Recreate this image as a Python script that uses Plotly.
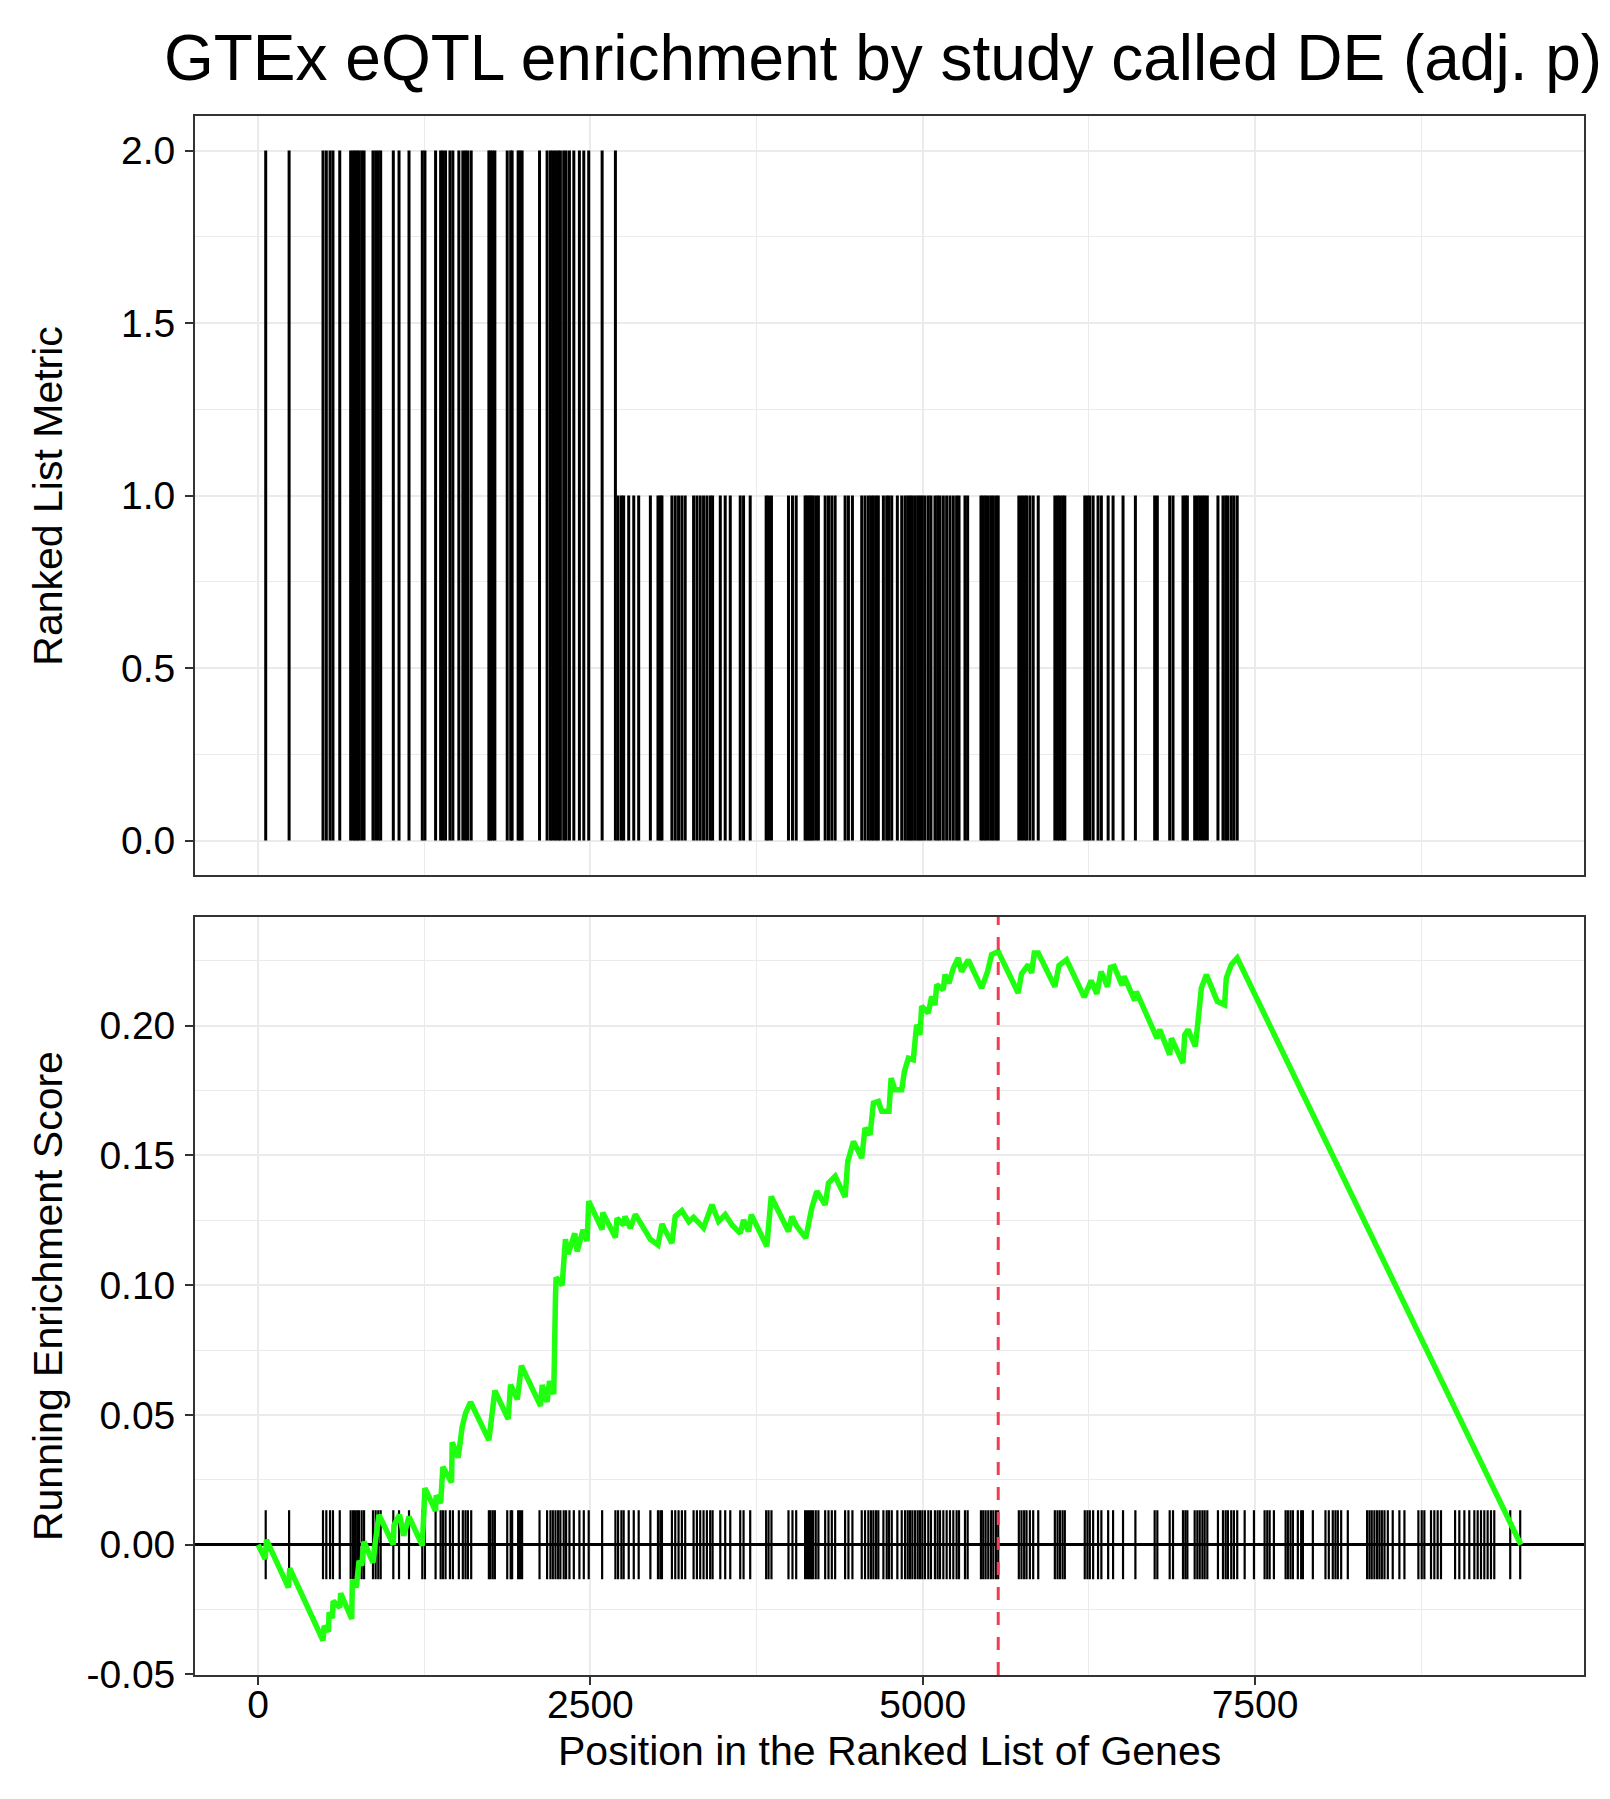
import plotly.graph_objects as go

# hit positions in the ranked gene list, grouped by their ranked-list metric
pos_metric_2 = [57, 233, 488, 513, 541, 563, 614, 696, 714, 729, 745, 759, 779, 797,
                864, 884, 904, 922, 1017, 1060, 1135, 1235, 1255, 1335, 1373, 1390,
                1410, 1443, 1465, 1510, 1540, 1560, 1578, 1603, 1736, 1748, 1765, 1781,
                1874, 1900, 1911, 1956, 1970, 1986, 2117, 2174, 2199, 2217, 2237, 2257,
                2274, 2299, 2317, 2342, 2375, 2417, 2450, 2487, 2588, 2688]
pos_metric_1 = [2708, 2733, 2750, 2788, 2826, 2863, 2951, 3008, 3026, 3038, 3113, 3138,
                3163, 3188, 3213, 3276, 3301, 3326, 3351, 3376, 3401, 3419, 3477, 3514,
                3552, 3627, 3652, 3702, 3822, 3840, 3862, 3990, 4020, 4048, 4115, 4130,
                4145, 4160, 4175, 4195, 4215, 4266, 4291, 4316, 4341, 4416, 4441, 4471,
                4541, 4566, 4591, 4611, 4629, 4649, 4666, 4704, 4729, 4746, 4767, 4809,
                4842, 4867, 4887, 4904, 4922, 4942, 4962, 4979, 4997, 5017, 5042, 5062,
                5092, 5112, 5130, 5155, 5180, 5205, 5230, 5255, 5273, 5318, 5338, 5438,
                5455, 5473, 5493, 5513, 5531, 5551, 5568, 5723, 5743, 5763, 5781, 5806,
                5831, 5869, 5994, 6014, 6032, 6052, 6069, 6219, 6239, 6257, 6282, 6319,
                6344, 6395, 6432, 6507, 6600, 6745, 6765, 6858, 6883, 6958, 6976, 6991,
                7046, 7066, 7084, 7104, 7121, 7141, 7221, 7259, 7279, 7296, 7321, 7341,
                7366]
pos_metric_0 = [7422, 7492, 7572, 7592, 7610, 7642, 7730, 7747, 7767, 7785, 7822, 7847,
                7860, 7935, 8030, 8055, 8085, 8105, 8123, 8148, 8198, 8343, 8361, 8378,
                8398, 8418, 8436, 8454, 8474, 8499, 8536, 8586, 8624, 8729, 8754, 8774,
                8824, 8849, 8874, 8899, 9005, 9037, 9075, 9112, 9150, 9175, 9200, 9225,
                9250, 9275, 9300, 9420, 9495]

# running enrichment score
es_pos = [0, 53, 63, 228, 238, 488, 496, 529, 534, 559, 564, 614, 621, 704, 709, 739,
          759, 780, 796, 864, 884, 909, 1017, 1022, 1064, 1095, 1135, 1235, 1255, 1335,
          1340, 1373, 1390, 1455, 1460, 1505, 1535, 1560, 1598, 1736, 1781, 1881, 1899,
          1950, 1981, 2124, 2137, 2174, 2192, 2224, 2237, 2242, 2287, 2312, 2332, 2382,
          2400, 2445, 2475, 2487, 2588, 2592, 2688, 2700, 2750, 2760, 2800, 2838, 2951,
          3008, 3038, 3113, 3138, 3188, 3240, 3276, 3351, 3414, 3464, 3514, 3564, 3627,
          3652, 3690, 3710, 3827, 3860, 3990, 4015, 4053, 4120, 4165, 4203, 4266, 4291,
          4341, 4416, 4436, 4479, 4541, 4566, 4604, 4629, 4666, 4692, 4746, 4762, 4792,
          4842, 4862, 4892, 4929, 4954, 4979, 4992, 5042, 5067, 5092, 5105, 5155, 5167,
          5197, 5230, 5267, 5292, 5343, 5443, 5488, 5518, 5568, 5718, 5743, 5794, 5819,
          5839, 5869, 5994, 6025, 6082, 6215, 6267, 6310, 6342, 6390, 6412, 6440, 6500,
          6515, 6595, 6607, 6762, 6783, 6858, 6871, 6958, 6971, 6996, 7051, 7071, 7096,
          7134, 7216, 7271, 7284, 7321, 7366, 9500]
es_val = [0.0, -0.0055, 0.0019, -0.0165, -0.0091, -0.0369, -0.0313, -0.0335, -0.0261,
          -0.0283, -0.0217, -0.0242, -0.0187, -0.0286, -0.0136, -0.0165, -0.0062, -0.0080,
          0.0012, -0.0069, 0.0019, 0.0115, 0.0, 0.0075, 0.0115, 0.0035, 0.0108, -0.0003,
          0.0218, 0.013, 0.019, 0.016, 0.030, 0.024, 0.0395, 0.0336, 0.0454, 0.0506,
          0.055, 0.0403, 0.0594, 0.0484, 0.0617, 0.0560, 0.069, 0.0535, 0.0616, 0.055,
          0.0631, 0.058, 0.0956, 0.103, 0.100, 0.1177, 0.112, 0.120, 0.113, 0.1214,
          0.117, 0.1324, 0.1214, 0.128, 0.1184, 0.1258, 0.1232, 0.1265, 0.122, 0.1273,
          0.1177, 0.1155, 0.1236, 0.1162, 0.1265, 0.1287, 0.1245, 0.1262, 0.1221, 0.131,
          0.1246, 0.1272, 0.1233, 0.120, 0.1252, 0.1207, 0.1272, 0.115, 0.1342, 0.1207,
          0.1265, 0.1227, 0.1182, 0.1297, 0.1362, 0.131, 0.1394, 0.142, 0.134, 0.1477,
          0.1554, 0.149, 0.1606, 0.158, 0.1702, 0.1708, 0.167, 0.167, 0.1798, 0.1753,
          0.1753, 0.1824, 0.1875, 0.1869, 0.2004, 0.1965, 0.2075, 0.2049, 0.2113, 0.208,
          0.2158, 0.2139, 0.2197, 0.2164, 0.2222, 0.2261, 0.2209, 0.2254, 0.2145, 0.2209,
          0.2274, 0.2286, 0.2126, 0.2200, 0.2235, 0.2203, 0.228, 0.228, 0.2150, 0.2232,
          0.2254, 0.2110, 0.2174, 0.2123, 0.2209, 0.2150, 0.2225, 0.2229, 0.2155, 0.219,
          0.2097, 0.2132, 0.1952, 0.1985, 0.1888, 0.1952, 0.1856, 0.1965, 0.1985, 0.192,
          0.2017, 0.2145, 0.2197, 0.2094, 0.2081, 0.2184, 0.2235, 0.2261, 0.0]

x_ticks = [0, 2500, 5000, 7500]
x_labels = ["0", "2500", "5000", "7500"]
x_minor = [1250, 3750, 6250, 8750]
y1_ticks = [0, 0.5, 1, 1.5, 2]
y1_labels = ["0.0", "0.5", "1.0", "1.5", "2.0"]
y1_minor = [0.25, 0.75, 1.25, 1.75]
y2_ticks = [-0.05, 0, 0.05, 0.1, 0.15, 0.2]
y2_labels = ["-0.05", "0.00", "0.05", "0.10", "0.15", "0.20"]
y2_minor = [-0.025, 0.025, 0.075, 0.125, 0.175, 0.225]

FONT = "Liberation Sans, Arial, sans-serif"
GRID = "#EBEBEB"
BORDER = "#333333"
TICK_H = 0.0133

hits = ([(p, 2) for p in pos_metric_2] + [(p, 1) for p in pos_metric_1]
        + [(p, 0) for p in pos_metric_0])

# metric bars (top) and hit ticks (bottom) as segments
bar_x, bar_y, tick_x, tick_y = [], [], [], []
for p, m in hits:
    if m > 0:
        bar_x += [p, p, None]
        bar_y += [0, m, None]
    tick_x += [p, p, None]
    tick_y += [-TICK_H, TICK_H, None]

peak_pos = es_pos[es_val.index(max(es_val))]

fig = go.Figure()
fig.add_trace(go.Scatter(x=bar_x, y=bar_y, mode="lines", xaxis="x", yaxis="y",
                         line=dict(color="black", width=3), hoverinfo="skip"))
fig.add_trace(go.Scatter(x=tick_x, y=tick_y, mode="lines", xaxis="x2", yaxis="y2",
                         line=dict(color="black", width=2.2), hoverinfo="skip"))
fig.add_trace(go.Scatter(x=es_pos, y=es_val, mode="lines", xaxis="x2", yaxis="y2",
                         line=dict(color="#1FFF0F", width=5.5)))

axis_common = dict(showgrid=True, gridcolor=GRID, gridwidth=2.4, zeroline=False,
                   showline=True, linecolor=BORDER, linewidth=1.8, mirror=True,
                   tickfont=dict(family=FONT, size=39, color="black"),
                   ticks="outside", ticklen=8, tickwidth=2, tickcolor=BORDER)

def minor_grid(vals):
    return dict(tickvals=vals, showgrid=True, gridcolor=GRID, gridwidth=1.2, ticks="")

fig.update_layout(
    width=1610, height=1799,
    margin=dict(l=187, r=34, t=108, b=132),
    paper_bgcolor="white", plot_bgcolor="white",
    showlegend=False,
    title=dict(text="GTEx eQTL enrichment by study called DE (adj. p)",
               x=0.5435, xanchor="center", y=0.9722, yanchor="middle",
               font=dict(family=FONT, size=64, color="black")),
    xaxis=dict(axis_common, domain=[0, 1], anchor="y", range=[-475, 9975],
               tickvals=x_ticks, showticklabels=False, ticks="",
               minor=minor_grid(x_minor)),
    yaxis=dict(axis_common, domain=[0.5131, 1], anchor="x", range=[-0.1, 2.1],
               tickvals=y1_ticks, ticktext=y1_labels, ticklabelstandoff=2,
               minor=minor_grid(y1_minor)),
    xaxis2=dict(axis_common, domain=[0, 1], anchor="y2", range=[-475, 9975],
                tickvals=x_ticks, ticktext=x_labels, ticklabelstandoff=-14,
                minor=minor_grid(x_minor)),
    yaxis2=dict(axis_common, domain=[0, 0.4862], anchor="x2", range=[-0.0502, 0.2419],
                tickvals=y2_ticks, ticktext=y2_labels, ticklabelstandoff=2,
                zeroline=True, zerolinecolor="black", zerolinewidth=2.8,
                minor=minor_grid(y2_minor)),
    shapes=[
        dict(type="line", xref="x2", x0=peak_pos, x1=peak_pos, yref="y2 domain", y0=0, y1=1,
             line=dict(color="#EE4055", width=3, dash="13px,12px")),
    ],
    annotations=[
        dict(text="Ranked List Metric", xref="paper", yref="paper",
             x=-0.1058, y=0.7565, textangle=-90, showarrow=False,
             xanchor="center", yanchor="middle",
             font=dict(family=FONT, size=41, color="black")),
        dict(text="Running Enrichment Score", xref="paper", yref="paper",
             x=-0.1058, y=0.2431, textangle=-90, showarrow=False,
             xanchor="center", yanchor="middle",
             font=dict(family=FONT, size=41, color="black")),
        dict(text="Position in the Ranked List of Genes", xref="paper", yref="paper",
             x=0.4997, y=-0.0488, showarrow=False, xanchor="center", yanchor="middle",
             font=dict(family=FONT, size=41, color="black")),
    ],
)

fig.write_html("out.html")
